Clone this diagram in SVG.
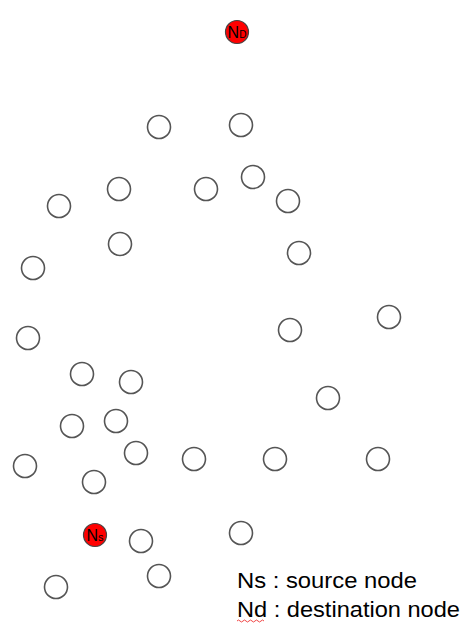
<svg xmlns="http://www.w3.org/2000/svg" width="464" height="626" viewBox="0 0 464 626">
<style>
.n{fill:#fff;stroke:#555;stroke-width:1.6}
.r{fill:#f00;stroke:#444;stroke-width:1.2}
.lbl{font-family:"Liberation Sans",Arial,sans-serif;fill:#000}
.leg{font-family:"Liberation Sans",Arial,sans-serif;font-size:22px;fill:#000}
</style>
<rect width="464" height="626" fill="#fff"/>
<g id="connectors"></g>
<g id="nd"><circle class="r" cx="237" cy="32" r="11.5"/><text class="lbl" x="237" y="38" text-anchor="middle" font-size="16">N<tspan font-size="10">D</tspan></text></g>
<g id="ns"><circle class="r" cx="95" cy="535" r="11.5"/><text class="lbl" x="95" y="541" text-anchor="middle" font-size="16">N<tspan font-size="11">s</tspan></text></g>
<g id="n1"><circle class="n" cx="159" cy="127" r="11.5"/></g>
<g id="n2"><circle class="n" cx="241" cy="125" r="11.5"/></g>
<g id="n3"><circle class="n" cx="119" cy="189" r="11.5"/></g>
<g id="n4"><circle class="n" cx="206" cy="189" r="11.5"/></g>
<g id="n5"><circle class="n" cx="253" cy="177" r="11.5"/></g>
<g id="n6"><circle class="n" cx="288" cy="201" r="11.5"/></g>
<g id="n7"><circle class="n" cx="59" cy="206" r="11.5"/></g>
<g id="n8"><circle class="n" cx="120" cy="244" r="11.5"/></g>
<g id="n9"><circle class="n" cx="299" cy="253" r="11.5"/></g>
<g id="n10"><circle class="n" cx="33" cy="268" r="11.5"/></g>
<g id="n11"><circle class="n" cx="28" cy="338" r="11.5"/></g>
<g id="n12"><circle class="n" cx="290" cy="330" r="11.5"/></g>
<g id="n13"><circle class="n" cx="389" cy="317" r="11.5"/></g>
<g id="n14"><circle class="n" cx="82" cy="374" r="11.5"/></g>
<g id="n15"><circle class="n" cx="131" cy="382" r="11.5"/></g>
<g id="n16"><circle class="n" cx="328" cy="398" r="11.5"/></g>
<g id="n17"><circle class="n" cx="72" cy="426" r="11.5"/></g>
<g id="n18"><circle class="n" cx="116" cy="421" r="11.5"/></g>
<g id="n19"><circle class="n" cx="136" cy="453" r="11.5"/></g>
<g id="n20"><circle class="n" cx="194" cy="459" r="11.5"/></g>
<g id="n21"><circle class="n" cx="275" cy="459" r="11.5"/></g>
<g id="n22"><circle class="n" cx="378" cy="459" r="11.5"/></g>
<g id="n23"><circle class="n" cx="25" cy="466" r="11.5"/></g>
<g id="n24"><circle class="n" cx="94" cy="482" r="11.5"/></g>
<g id="n25"><circle class="n" cx="141" cy="541" r="11.5"/></g>
<g id="n26"><circle class="n" cx="241" cy="533" r="11.5"/></g>
<g id="n27"><circle class="n" cx="159" cy="576" r="11.5"/></g>
<g id="n28"><circle class="n" cx="56" cy="587" r="11.5"/></g>
<g id="legend">
<text class="leg" x="237" y="588" textLength="180" lengthAdjust="spacingAndGlyphs">Ns : source node</text>
<text class="leg" x="237" y="617" textLength="223" lengthAdjust="spacingAndGlyphs">Nd : destination node</text>
<path d="M237 621 q1.5 -2 3 0 t3 0 t3 0 t3 0 t3 0 t3 0 t3 0 t3 0 t3 0" fill="none" stroke="#e33" stroke-width="0.9"/>
</g>
</svg>
